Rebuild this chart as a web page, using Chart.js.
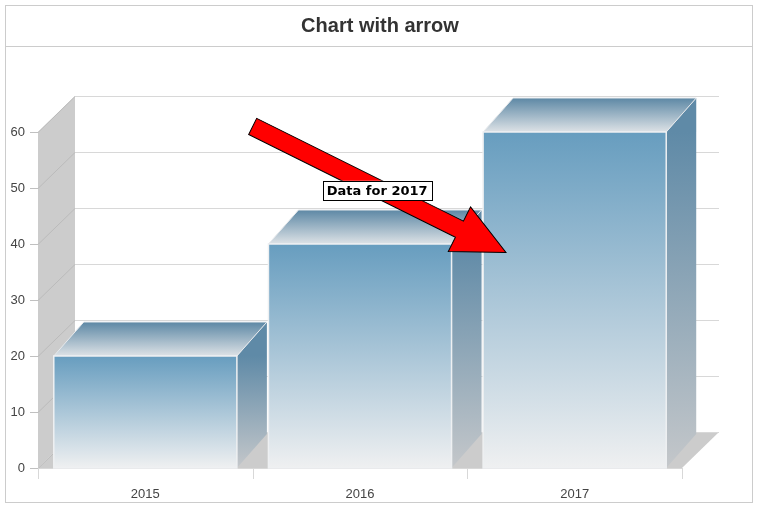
<!DOCTYPE html>
<html><head><meta charset="utf-8">
<script src="https://cdn.jsdelivr.net/npm/chart.js@4/dist/chart.umd.min.js"></script>
<style>html,body{margin:0;padding:0;background:#fff}#w{width:759px;height:508px}</style>
</head><body><div id="w"><canvas id="c"></canvas></div>
<script>
const categories = ['2015', '2016', '2017'];
const values = [20, 40, 60];
const yTicks = [0, 10, 20, 30, 40, 50, 60];
const titleText = 'Chart with arrow';
const arrowFrom = [0.5, 61];
const arrowTo = [1.68, 38.5];
const labelAt = [1.08, 49.5];
const labelText = 'Data for 2017';

const WX = 37, WY = 36, BX = 30, BY = 34;

function poly(ctx, pts, fill, stroke) {
  ctx.beginPath(); ctx.moveTo(pts[0][0], pts[0][1]);
  for (let i = 1; i < pts.length; i++) ctx.lineTo(pts[i][0], pts[i][1]);
  ctx.closePath();
  if (fill) { ctx.fillStyle = fill; ctx.fill(); }
  if (stroke) { ctx.strokeStyle = stroke; ctx.lineWidth = 1; ctx.stroke(); }
}

const deco = {
  id: 'deco',
  beforeDatasetsDraw(chart) {
    const ctx = chart.ctx, a = chart.chartArea, y = chart.scales.y, x = chart.scales.x;
    ctx.save();
    // frame
    ctx.strokeStyle = '#cccccc'; ctx.lineWidth = 1;
    ctx.strokeRect(5.5, 5.5, 747, 497);
    ctx.beginPath(); ctx.moveTo(6, 46.5); ctx.lineTo(752, 46.5); ctx.stroke();
    ctx.fillStyle = '#333333'; ctx.font = 'bold 20px "Liberation Sans", Arial'; ctx.textAlign = 'center'; ctx.textBaseline = 'middle';
    ctx.fillText(titleText, 380, 26);
    // left wall & floor
    poly(ctx, [[a.left, a.bottom], [a.left, a.top], [a.left + WX, a.top - WY], [a.left + WX, a.bottom - WY]], '#cccccc');
    poly(ctx, [[a.left, a.bottom], [a.right, a.bottom], [a.right + WX, a.bottom - WY], [a.left + WX, a.bottom - WY]], '#cccccc');
    // grid
    yTicks.forEach(t => {
      const py = Math.round(y.getPixelForValue(t)) + 0.5;
      ctx.strokeStyle = '#d8d8d8'; ctx.beginPath();
      ctx.moveTo(a.left + WX, py - WY); ctx.lineTo(a.right + WX, py - WY); ctx.stroke();
      ctx.strokeStyle = '#bbbbbb'; ctx.beginPath();
      ctx.moveTo(a.left, py); ctx.lineTo(a.left + WX, py - WY); ctx.stroke();
      ctx.strokeStyle = '#c0c0c0'; ctx.beginPath();
      ctx.moveTo(a.left - 8, py); ctx.lineTo(a.left, py); ctx.stroke();
      ctx.fillStyle = '#444'; ctx.font = '13px "Liberation Sans", Arial'; ctx.textAlign = 'right'; ctx.textBaseline = 'middle';
      ctx.fillText(String(t), a.left - 13, py);
    });
    // x axis
    ctx.strokeStyle = '#d8d8d8';
    ctx.beginPath(); ctx.moveTo(a.left, a.bottom + 0.5); ctx.lineTo(a.right, a.bottom + 0.5); ctx.stroke();
    const n = categories.length, cw = (a.right - a.left) / n;
    for (let i = 0; i <= n; i++) {
      const px = Math.round(a.left + cw * i) + 0.5;
      ctx.beginPath(); ctx.moveTo(px, a.bottom); ctx.lineTo(px, a.bottom + 11); ctx.stroke();
    }
    ctx.fillStyle = '#444'; ctx.font = '13px "Liberation Sans", Arial'; ctx.textAlign = 'center'; ctx.textBaseline = 'middle';
    categories.forEach((c, i) => ctx.fillText(c, x.getPixelForValue(i), a.bottom + 26));
    ctx.restore();
  },
  afterDatasetsDraw(chart) {
    const ctx = chart.ctx;
    const meta = chart.getDatasetMeta(0);
    ctx.save();
    meta.data.forEach(bar => {
      const l = bar.x - bar.width / 2, r = bar.x + bar.width / 2, t = bar.y, b = bar.base;
      let g = ctx.createLinearGradient(0, t, 0, b);
      g.addColorStop(0, '#5f8aa7'); g.addColorStop(1, '#c4c7ca');
      poly(ctx, [[r, b], [r, t], [r + BX, t - BY], [r + BX, b - BY]], g);
      g = ctx.createLinearGradient(0, t - BY, 0, t);
      g.addColorStop(0, '#5d88a5'); g.addColorStop(1, '#dde2e6');
      poly(ctx, [[l, t], [r, t], [r + BX, t - BY], [l + BX, t - BY]], g, '#e6e9ec');
      g = ctx.createLinearGradient(0, t, 0, b);
      g.addColorStop(0, '#679dbf'); g.addColorStop(1, '#eff0f1');
      ctx.fillStyle = g; ctx.fillRect(l, t, r - l, b - t);
      ctx.strokeStyle = '#eef0f2'; ctx.lineWidth = 1.5; ctx.strokeRect(l, t, r - l, b - t);
    });
    ctx.restore();
  },
  afterDraw(chart) {
    const ctx = chart.ctx, x = chart.scales.x, y = chart.scales.y;
    const x1 = x.getPixelForValue(arrowFrom[0]), y1 = y.getPixelForValue(arrowFrom[1]);
    const x2 = x.getPixelForValue(arrowTo[0]), y2 = y.getPixelForValue(arrowTo[1]);
    const ang = Math.atan2(y2 - y1, x2 - x1), len = Math.hypot(x2 - x1, y2 - y1);
    const sw = 9, hw = 25, hl = 52;
    ctx.save();
    ctx.translate(x1, y1); ctx.rotate(ang);
    poly(ctx, [[0, -sw], [len - hl, -sw], [len - hl, -hw], [len, 0], [len - hl, hw], [len - hl, sw], [0, sw]], '#ff0000', '#000000');
    ctx.restore();
    const lx = x.getPixelForValue(labelAt[0]), ly = y.getPixelForValue(labelAt[1]);
    ctx.save();
    ctx.font = 'bold 13px "DejaVu Sans", Arial';
    const w = ctx.measureText(labelText).width + 8;
    ctx.fillStyle = '#fff'; ctx.fillRect(lx - w / 2, ly - 10, w, 20);
    ctx.strokeStyle = '#000'; ctx.lineWidth = 1; ctx.strokeRect(Math.round(lx - w / 2) + 0.5, Math.round(ly - 10) + 0.5, Math.round(w), 19);
    ctx.fillStyle = '#000'; ctx.textAlign = 'center'; ctx.textBaseline = 'middle';
    ctx.fillText(labelText, lx, ly + 0.5);
    ctx.restore();
  }
};

new Chart(document.getElementById('c'), {
  type: 'bar',
  data: { labels: categories, datasets: [{ data: values, backgroundColor: 'rgba(0,0,0,0)', barPercentage: 0.853, categoryPercentage: 1 }] },
  options: {
    responsive: true, maintainAspectRatio: false, animation: false,
    layout: { padding: { left: 38, right: 77, top: 132, bottom: 40 } },
    plugins: { legend: { display: false }, tooltip: { enabled: false }, title: { display: false } },
    scales: {
      x: { display: false },
      y: { display: false, min: 0, max: 60 }
    }
  },
  plugins: [deco]
});
</script></body></html>
